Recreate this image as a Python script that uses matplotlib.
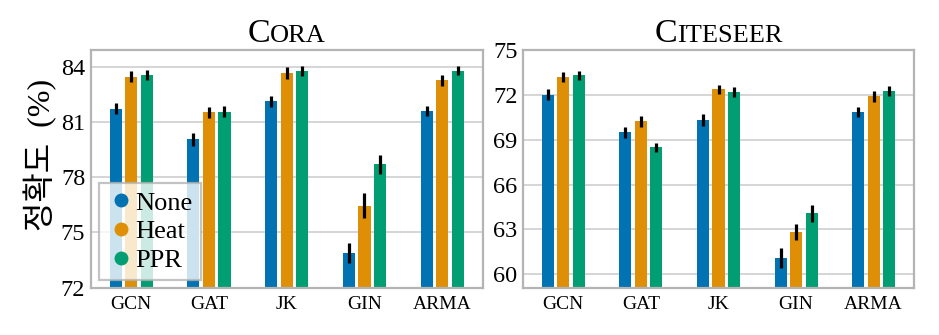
import numpy as np
import matplotlib
matplotlib.use("Agg")
import matplotlib.pyplot as plt
from matplotlib.offsetbox import TextArea, HPacker, AnchoredOffsetbox
from matplotlib.lines import Line2D

models = ["GCN", "GAT", "JK", "GIN", "ARMA"]
methods = ["None", "Heat", "PPR"]
colors = ["#0173B2", "#DE8F05", "#029E73"]

cora_mean = {
    "None": [81.70, 80.06, 82.11, 73.87, 81.58],
    "Heat": [83.45, 81.51, 83.65, 76.46, 83.27],
    "PPR":  [83.56, 81.55, 83.76, 78.69, 83.78],
}
cora_err = {
    "None": [0.30, 0.35, 0.28, 0.53, 0.28],
    "Heat": [0.30, 0.30, 0.32, 0.70, 0.30],
    "PPR":  [0.28, 0.30, 0.28, 0.50, 0.25],
}
cite_mean = {
    "None": [72.00, 69.49, 70.32, 61.08, 70.86],
    "Heat": [73.19, 70.23, 72.36, 62.83, 71.89],
    "PPR":  [73.32, 68.48, 72.20, 64.08, 72.24],
}
cite_err = {
    "None": [0.36, 0.35, 0.38, 0.65, 0.36],
    "Heat": [0.32, 0.38, 0.33, 0.56, 0.40],
    "PPR":  [0.30, 0.30, 0.35, 0.56, 0.35],
}

serif = "Liberation Serif"
plt.rcParams["font.family"] = serif
grid_col = "#d2d2d2"
spine_col = "#b4b4b4"

fig = plt.figure(figsize=(9.39, 3.35), dpi=100)
ax1 = fig.add_axes([90.7 / 939, 47.3 / 335, 392 / 939, 237.7 / 335])
ax2 = fig.add_axes([523 / 939, 47.3 / 335, 391 / 939, 237.7 / 335])


def draw(ax, means, errs, ylim, ticks, big, small):
    x = np.arange(len(models))
    for i, m in enumerate(methods):
        pos = x + (i - 1) * 0.2
        ax.bar(pos, means[m], width=0.155, color=colors[i], zorder=2)
        ax.errorbar(pos, means[m], yerr=errs[m], fmt="none", ecolor="black",
                    elinewidth=2.3, capsize=0, zorder=3)
    ax.set_xlim(-0.52, 4.52)
    ax.set_ylim(*ylim)
    ax.set_yticks(ticks)
    ax.set_xticks(x)
    ax.set_xticklabels(models, fontsize=14)
    ax.tick_params(axis="y", labelsize=17.5, length=0, pad=4)
    ax.tick_params(axis="x", length=0, pad=6)
    ax.yaxis.grid(True, color=grid_col, linewidth=1.3, zorder=0)
    ax.set_axisbelow(True)
    for s in ax.spines.values():
        s.set_color(spine_col)
        s.set_linewidth(1.6)
    # small-caps title: big first letter, smaller rest
    t = HPacker(children=[TextArea(big, textprops=dict(size=24.5, family=serif)),
                          TextArea(small, textprops=dict(size=19, family=serif))],
                align="baseline", pad=0, sep=0)
    box = AnchoredOffsetbox(loc="lower center", child=t, pad=0, borderpad=0.1,
                            bbox_to_anchor=(0.5, 1.0), bbox_transform=ax.transAxes,
                            frameon=False)
    ax.add_artist(box)


draw(ax1, cora_mean, cora_err, (72, 84.9), [72, 75, 78, 81, 84], "C", "ORA")
draw(ax2, cite_mean, cite_err, (59.1, 75.0), [60, 63, 66, 69, 72, 75], "C", "ITESEER")

ax1.set_ylabel("정확도  (%)", family=[serif, "Noto Sans CJK KR"], fontsize=23)
ax1.yaxis.set_label_coords(-0.085, 0.56)

handles = [Line2D([], [], marker="o", linestyle="none", markersize=9,
                  color=c) for c in colors]
leg = ax1.legend(handles, methods, loc="lower left", bbox_to_anchor=(0.02, 0.032),
                 borderaxespad=0, fontsize=19, handletextpad=0.0, labelspacing=0.2,
                 borderpad=0.3, handlelength=1.1, framealpha=0.8,
                 edgecolor=spine_col, fancybox=False)
leg.get_frame().set_linewidth(1.6)

fig.savefig("out.png", dpi=100)
